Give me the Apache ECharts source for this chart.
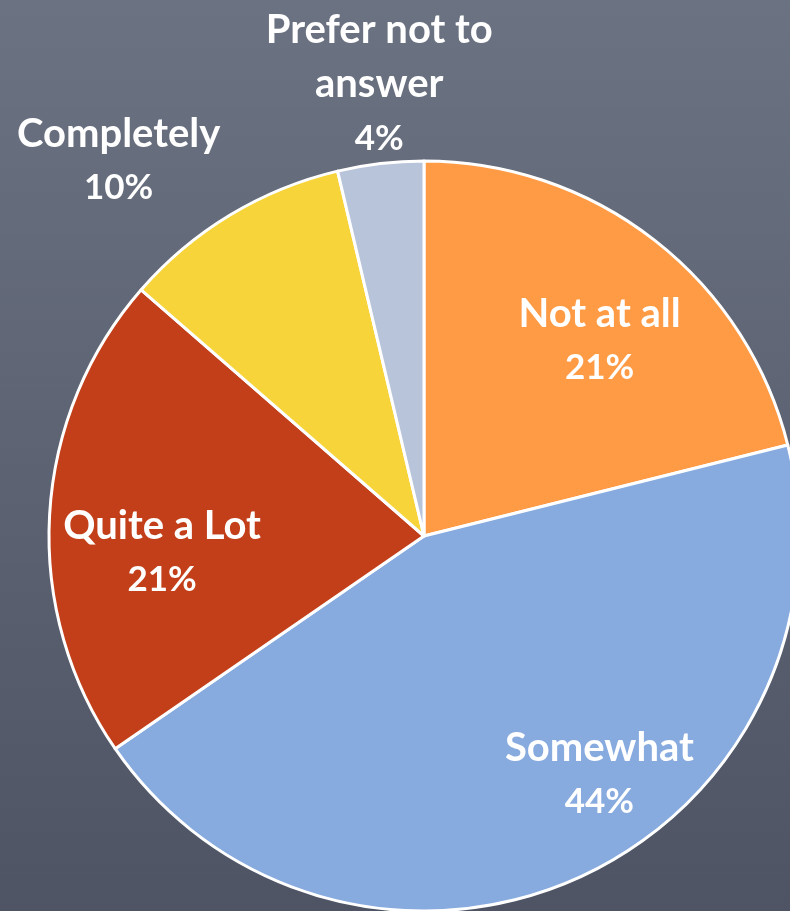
<!DOCTYPE html>
<html>
<head>
<meta charset="utf-8">
<script src="https://cdn.jsdelivr.net/npm/echarts@6/dist/echarts.min.js"></script>
<style>
  html, body { margin: 0; padding: 0; }
  #main { width: 790px; height: 911px; }
</style>
</head>
<body>
<div id="main"></div>
<script>
// slices, clockwise from 12 o'clock
const names = ['Not at all', 'Somewhat', 'Quite a Lot', 'Completely', 'Prefer not to answer']
const values = [21.1, 44.3, 21.0, 9.9, 3.7]
const colors = ['#FF9A45', '#87AADF', '#C23F19', '#F6D43A', '#B8C4DA']

// label placement: fraction of radius, angle nudge in degrees
const labelPlace = [
  [0.70, 4], [0.79, -12], [0.70, -7], [1.29, -8], [1.21, 1]
]

const cx = 424
const cy = 536
const R = 375

let total = values.reduce((a, b) => a + b, 0)
let mids = []
let acc = 0
values.forEach(v => {
  mids.push((acc + v / 2) / total * 360)
  acc += v
})

let myChart = echarts.init(document.getElementById('main'))

let option = {
  backgroundColor: {
    type: 'linear', x: 0, y: 0, x2: 0, y2: 1,
    colorStops: [
      { offset: 0, color: '#6b7281' },
      { offset: 1, color: '#4e5464' }
    ]
  },
  animation: false,
  series: [{
    type: 'pie',
    center: [cx, cy],
    radius: R,
    startAngle: 90,
    clockwise: true,
    percentPrecision: 0,
    itemStyle: { borderColor: '#ffffff', borderWidth: 3 },
    label: {
      show: true,
      position: 'inside',
      formatter: function (p) {
        let n = p.name === 'Prefer not to answer' ? 'Prefer not to\nanswer' : p.name
        return n.split('\n').map(s => '{n|' + s + '}').join('\n') + '\n{p|' + p.percent + '%}'
      },
      color: '#ffffff',
      fontFamily: 'Lato',
      fontWeight: 'bold',
      align: 'center',
      rich: {
        n: { fontSize: 40, lineHeight: 54, fontFamily: 'Lato', fontWeight: 'bold', color: '#ffffff' },
        p: { fontSize: 35, lineHeight: 54, fontFamily: 'Lato', fontWeight: 'bold', color: '#ffffff' }
      }
    },
    labelLine: { show: false },
    labelLayout: function (params) {
      let i = params.dataIndex
      let a = (mids[i] + labelPlace[i][1]) * Math.PI / 180
      let r = R * labelPlace[i][0]
      return {
        x: cx + r * Math.sin(a),
        y: cy - r * Math.cos(a),
        align: 'center',
        verticalAlign: 'middle'
      }
    },
    data: names.map((n, i) => ({
      name: n,
      value: values[i],
      itemStyle: { color: colors[i] }
    }))
  }]
}

myChart.setOption(option)
</script>
</body>
</html>
